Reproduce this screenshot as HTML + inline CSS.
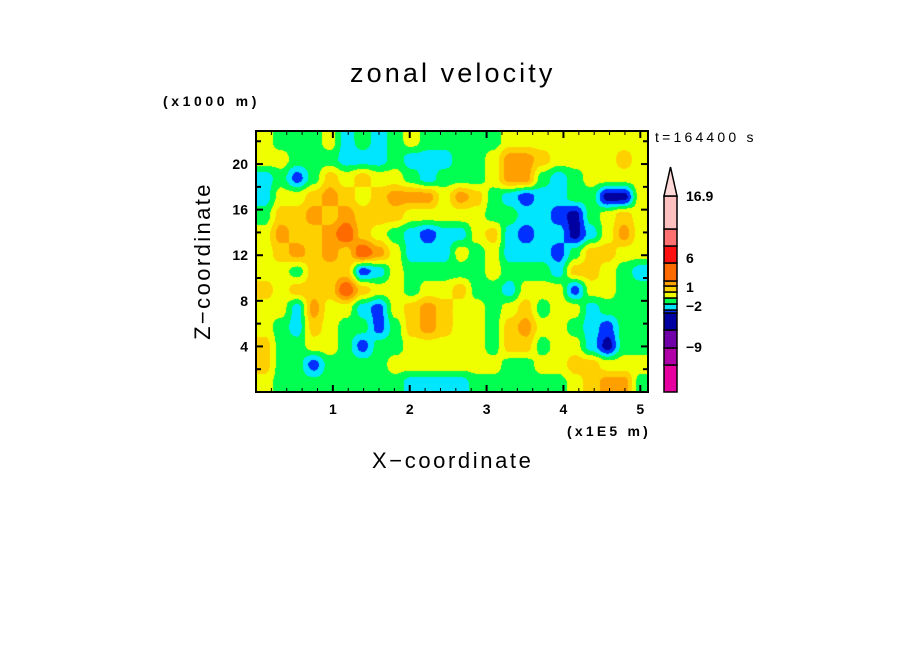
<!DOCTYPE html>
<html><head><meta charset="utf-8">
<style>
body{margin:0;background:#fff;width:904px;height:654px;overflow:hidden;position:relative;font-family:"Liberation Sans",sans-serif}
.t{position:absolute;white-space:nowrap;color:#000}
canvas{position:absolute;left:256px;top:131px}
svg{position:absolute;left:0;top:0}
</style></head><body>
<div class="t" style="left:350px;top:58px;font-size:27px;letter-spacing:3.1px">zonal velocity</div>
<div class="t" style="left:163px;top:93px;font-size:14px;font-weight:bold;letter-spacing:3.6px">(x1000 m)</div>
<div class="t" style="left:655px;top:129px;font-size:14px;letter-spacing:3.2px">t=164400 s</div>
<div class="t" style="left:567px;top:423px;font-size:14px;font-weight:bold;letter-spacing:3.2px">(x1E5 m)</div>
<div class="t" style="left:372px;top:448px;font-size:22px;letter-spacing:2.6px">X−coordinate</div>
<div class="t" style="left:203px;top:261px;font-size:22px;letter-spacing:2.4px;transform:translate(-50%,-50%) rotate(-90deg)">Z−coordinate</div>
<canvas id="cv" width="392" height="261"></canvas>
<svg id="sv" width="904" height="654"></svg>
<script>
// data
const xTicks=[1,2,3,4,5];
const yTicks=[4,8,12,16,20];
const levels=[-12,-9,-6,-4,-3,-2,-1,0,1,2,3,6,9,12,16.9];
const cbLabels=[16.9,6,1,-2,-9];
const K=-3.5,B=-2.5,C=-1.5,G=-0.5,Y=0.5,L=1.5,O=2.5,D=4;
const field=[
[Y,G,G,G,Y,C,G,C,G,Y,G,G,G,G,G,Y,Y,Y,Y,Y,Y,Y,Y,Y],
[Y,Y,G,G,G,C,C,C,G,C,C,C,G,G,Y,O,O,L,Y,Y,Y,Y,L,Y],
[C,G,B,G,L,Y,L,Y,Y,G,C,G,G,G,Y,O,O,G,C,G,Y,Y,Y,Y],
[C,Y,Y,L,O,L,Y,L,O,O,O,Y,O,L,G,C,B,C,C,G,G,K,K,Y],
[G,L,L,O,L,O,L,L,L,Y,Y,Y,Y,Y,G,G,C,C,B,K,G,Y,L,Y],
[Y,O,L,L,O,D,L,Y,G,C,B,C,C,Y,L,C,B,C,C,K,C,Y,O,Y],
[Y,L,O,L,O,L,D,O,Y,C,C,C,Y,G,Y,C,C,C,B,G,L,L,Y,Y],
[Y,Y,G,L,L,L,B,C,Y,G,G,G,G,G,Y,G,G,G,C,L,L,Y,G,C],
[L,Y,L,L,L,D,L,Y,Y,G,Y,Y,L,G,G,C,Y,Y,Y,B,Y,Y,G,G],
[Y,Y,C,O,Y,Y,C,B,Y,L,O,L,Y,Y,G,Y,L,G,Y,Y,C,G,G,G],
[Y,G,C,L,Y,G,G,B,G,L,O,L,Y,Y,G,L,O,Y,Y,G,C,B,G,G],
[L,G,G,Y,Y,G,B,G,G,Y,Y,Y,Y,Y,G,L,L,G,Y,Y,C,K,G,G],
[L,G,G,B,G,G,G,G,Y,Y,Y,Y,Y,Y,Y,G,G,Y,Y,L,L,Y,Y,Y],
[Y,G,G,G,G,G,G,G,G,C,C,C,C,G,G,G,G,G,G,Y,L,O,O,G]];
const colors=["#e600a0","#b000a8","#7000a8","#0000a0","#0030ff","#00e6ff","#00ff50","#f0ff00","#ffd000","#ffa000","#ff6a00","#ff1010","#ff7070","#ffc0c0"];
// axes
const PX=256,PY=131,PW=392,PH=261,XMAX=5.1,ZMAX=22.9;
const sx=v=>PX+v/XMAX*PW, sy=v=>PY+PH-v/ZMAX*PH;
function col(v){for(let i=levels.length-2;i>=0;i--){if(v>=levels[i])return colors[i];}return colors[0];}
const cv=document.getElementById('cv'),ctx=cv.getContext('2d');
const R=field.length,Cn=field[0].length;
function sm(t){return t*t*(3-2*t);}
for(let py=0;py<PH;py++){for(let px=0;px<PW;px++){
 let fx=px/PW*Cn-0.5,fy=py/PH*R-0.5;
 fx=Math.max(0,Math.min(Cn-1.001,fx));fy=Math.max(0,Math.min(R-1.001,fy));
 const i=Math.floor(fx),j=Math.floor(fy),a=sm(fx-i),b=sm(fy-j);
 const v=field[j][i]*(1-a)*(1-b)+field[j][i+1]*a*(1-b)+field[j+1][i]*(1-a)*b+field[j+1][i+1]*a*b;
 ctx.fillStyle=col(v);ctx.fillRect(px,py,1,1);}}
const sv=document.getElementById('sv'),NS='http://www.w3.org/2000/svg';
function el(t,at){const e=document.createElementNS(NS,t);for(const k in at)e.setAttribute(k,at[k]);sv.appendChild(e);return e;}
const fr=el('rect',{x:PX,y:PY,width:PW,height:PH,fill:'none',stroke:'#000','stroke-width':2});


for(let v=0.2;v<XMAX;v+=0.2){const big=Math.abs(v-Math.round(v))<0.01;const l=big?7:4;
 el('line',{x1:sx(v),x2:sx(v),y1:PY+PH,y2:PY+PH-l,stroke:'#000','stroke-width':big?2:1});
 el('line',{x1:sx(v),x2:sx(v),y1:PY,y2:PY+l,stroke:'#000','stroke-width':big?2:1});}
for(let v=2;v<ZMAX;v+=2){const l=v%4==0?7:5;
 el('line',{x1:PX,x2:PX+l,y1:sy(v),y2:sy(v),stroke:'#000','stroke-width':2});
 el('line',{x1:PX+PW,x2:PX+PW-l,y1:sy(v),y2:sy(v),stroke:'#000','stroke-width':2});}
xTicks.forEach(v=>{const t=el('text',{x:sx(v),y:PY+PH+22,'text-anchor':'middle','font-size':14,'font-weight':'bold','font-family':'Liberation Sans'});t.textContent=v;

});
yTicks.forEach(v=>{const t=el('text',{x:PX-8,y:sy(v)+5,'text-anchor':'end','font-size':14,'font-weight':'bold','font-family':'Liberation Sans'});t.textContent=v;

});
// colorbar
const CBX=664,CBW=13,CBT=196,CBB=392;
const segH=[27,17,18,17,3,6,6,6,6,5,18,17,17];
let yy=CBB;
for(let i=0;i<segH.length;i++){const h=segH[i];yy-=h;
 const r=el('rect',{x:CBX,y:yy,width:CBW,height:h,fill:colors[i],stroke:'#000','stroke-width':1.5});
 
 }
const topSeg=el('rect',{x:CBX,y:CBT,width:CBW,height:yy-CBT,fill:colors[13],stroke:'#000','stroke-width':1.5});


const tri=el('polygon',{points:`${CBX},${CBT} ${CBX+CBW},${CBT} ${CBX+CBW/2},167`,fill:'#ffd8d8',stroke:'#000','stroke-width':1.5});


const cbY={16.9:201,6:263,1:292,"-2":311,"-9":352};
cbLabels.forEach(v=>{const t=el('text',{x:686,y:cbY[v],'font-size':14,'font-weight':'bold','font-family':'Liberation Sans'});t.textContent=v<0?'−'+(-v):v;

});
</script>
</body></html>
